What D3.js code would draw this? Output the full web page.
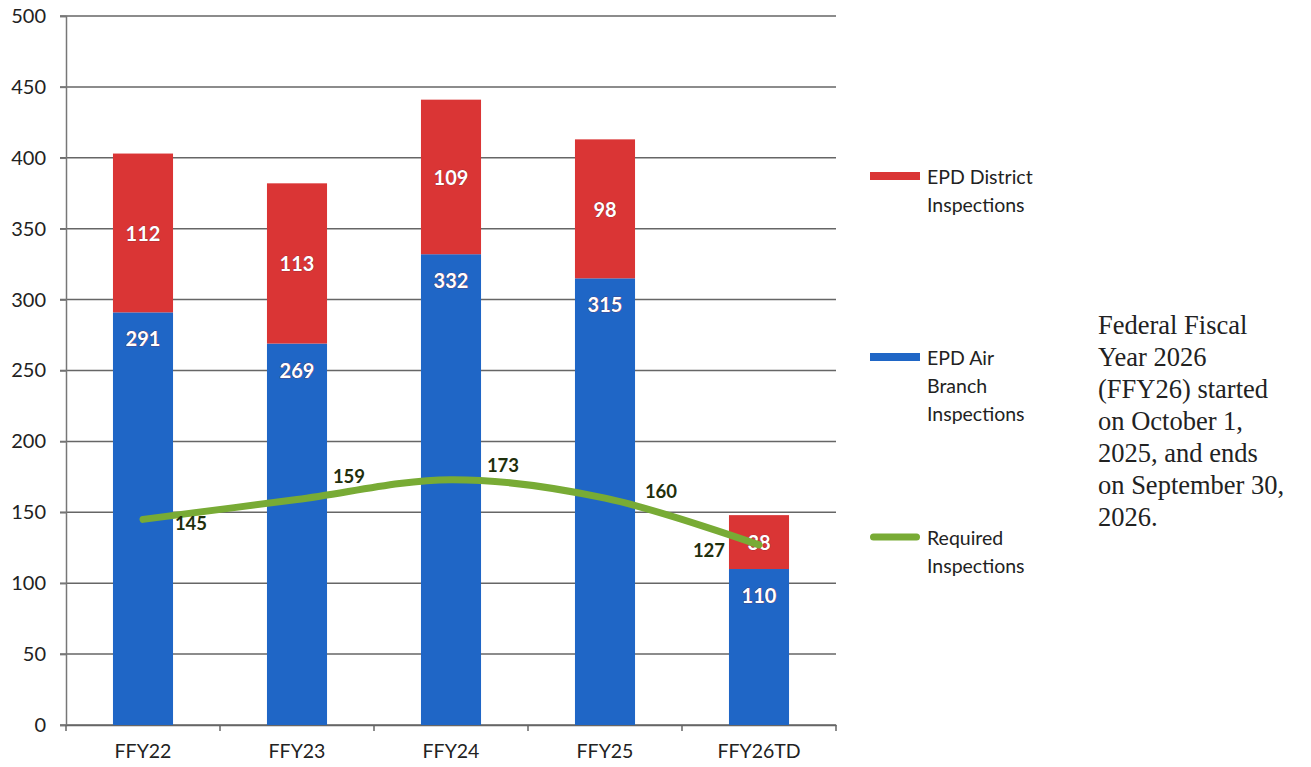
<!DOCTYPE html>
<html>
<head>
<meta charset="utf-8">
<script src="https://cdn.jsdelivr.net/npm/d3@7"></script>
<style>
	body { margin: 0; background: #fff; }
	svg text { font-family: Lato, "Open Sans", sans-serif; }
</style>
</head>
<body>
<div id="chart"></div>
<script>
// values
var years = ["FFY22", "FFY23", "FFY24", "FFY25", "FFY26TD"];
var airBranch = [291, 269, 332, 315, 110];
var district = [112, 113, 109, 98, 38];
var required = [145, 159, 173, 160, 127];
var yTicks = [0, 50, 100, 150, 200, 250, 300, 350, 400, 450, 500];
var noteLines = ["Federal Fiscal", "Year 2026", "(FFY26) started", "on October 1,", "2025, and ends", "on September 30,", "2026."];

var width = 1311, height = 767;
var blue = "#1f66c6", red = "#da3535", green = "#78ab35";

var svg = d3.select("#chart").append("svg").attr("width", width).attr("height", height);

var x = d3.scaleBand().domain(years).range([66, 836]).paddingInner(0.61).paddingOuter(0.305);
var y = d3.scaleLinear().domain([0, 500]).range([725, 16]);

// gridlines
svg.append("g").selectAll("line").data(yTicks).enter().append("line")
	.attr("x1", 60).attr("x2", 836)
	.attr("y1", function(d){ return y(d); }).attr("y2", function(d){ return y(d); })
	.attr("stroke", "#666").attr("stroke-width", 1.5);

// y axis
var yAxis = d3.axisLeft(y).tickValues(yTicks).tickSize(6).tickPadding(14);
var gy = svg.append("g").attr("transform", "translate(66,0)").call(yAxis);
gy.selectAll("path, line").attr("stroke", "#777").attr("stroke-width", 1.5);
gy.selectAll("text").attr("font-size", 20).attr("fill", "#222");

// x axis
var xAxis = d3.axisBottom(x).tickSize(0).tickPadding(19);
var gx = svg.append("g").attr("transform", "translate(0,725)").call(xAxis);
gx.select("path").attr("stroke", "#666").attr("stroke-width", 1.5);
gx.selectAll("text").attr("font-size", 19.5).attr("fill", "#222");
// category boundary ticks
var step = x.step();
svg.append("g").selectAll("line").data(d3.range(years.length + 1)).enter().append("line")
	.attr("x1", function(i){ return 66 + i * step; }).attr("x2", function(i){ return 66 + i * step; })
	.attr("y1", 725).attr("y2", 731)
	.attr("stroke", "#666").attr("stroke-width", 1.5);

// stacked bars
var rows = years.map(function(yr, i){ return { year: yr, air: airBranch[i], dist: district[i], req: required[i] }; });

svg.append("g").selectAll("rect").data(rows).enter().append("rect")
	.attr("x", function(d){ return x(d.year); })
	.attr("width", x.bandwidth())
	.attr("y", function(d){ return y(d.air); })
	.attr("height", function(d){ return y(0) - y(d.air); })
	.attr("fill", blue);

svg.append("g").selectAll("rect").data(rows).enter().append("rect")
	.attr("x", function(d){ return x(d.year); })
	.attr("width", x.bandwidth())
	.attr("y", function(d){ return y(d.air + d.dist); })
	.attr("height", function(d){ return y(d.air) - y(d.air + d.dist); })
	.attr("fill", red);

function barLabel(sel){
	sel.attr("text-anchor", "middle").attr("dominant-baseline", "central")
		.attr("font-size", 20).attr("font-weight", "bold").attr("fill", "#fff")
		.attr("stroke", "#7a2030").attr("stroke-width", 0.6).attr("paint-order", "stroke");
}

svg.append("g").selectAll("text").data(rows).enter().append("text")
	.attr("x", function(d){ return x(d.year) + x.bandwidth() / 2; })
	.attr("y", function(d){ return y(d.air) + 26; })
	.text(function(d){ return d.air; })
	.call(barLabel);

svg.append("g").selectAll("text").data(rows).enter().append("text")
	.attr("x", function(d){ return x(d.year) + x.bandwidth() / 2; })
	.attr("y", function(d){ return (y(d.air) + y(d.air + d.dist)) / 2; })
	.text(function(d){ return d.dist; })
	.call(barLabel);

// required line
var line = d3.line()
	.x(function(d){ return x(d.year) + x.bandwidth() / 2; })
	.y(function(d){ return y(d.req); })
	.curve(d3.curveCatmullRom.alpha(0.5));

svg.append("path").datum(rows)
	.attr("d", line)
	.attr("fill", "none").attr("stroke", green).attr("stroke-width", 7).attr("stroke-linecap", "round");

var reqOffsets = [[48, 4], [52, -24], [52, -15], [56, -7], [-50, 5]];
svg.append("g").selectAll("text").data(rows).enter().append("text")
	.attr("x", function(d, i){ return x(d.year) + x.bandwidth() / 2 + reqOffsets[i][0]; })
	.attr("y", function(d, i){ return y(d.req) + reqOffsets[i][1]; })
	.attr("text-anchor", "middle").attr("dominant-baseline", "central")
	.attr("font-size", 18.5).attr("font-weight", "bold").attr("fill", "#1f2f0c")
	.text(function(d){ return d.req; });

// legend
var legend = [
	{ color: red, type: "bar", lines: ["EPD District", "Inspections"], y: 176 },
	{ color: blue, type: "bar", lines: ["EPD Air", "Branch", "Inspections"], y: 357 },
	{ color: green, type: "line", lines: ["Required", "Inspections"], y: 537 }
];
var lg = svg.append("g").selectAll("g").data(legend).enter().append("g")
	.attr("transform", function(d){ return "translate(870," + d.y + ")"; });
lg.append("rect")
	.attr("x", 0).attr("y", function(d){ return d.type == "bar" ? -4 : -3.5; })
	.attr("width", 50).attr("height", function(d){ return d.type == "bar" ? 8 : 7; })
	.attr("rx", function(d){ return d.type == "bar" ? 0 : 3.5; })
	.attr("fill", function(d){ return d.color; });
lg.each(function(d){
	var g = d3.select(this);
	d.lines.forEach(function(t, i){
		g.append("text").attr("x", 57).attr("y", i * 28)
			.attr("dominant-baseline", "central")
			.attr("font-size", 19.5).attr("fill", "#222").text(t);
	});
});

// note at the right
svg.append("g").selectAll("text").data(noteLines).enter().append("text")
	.attr("x", 1098).attr("y", function(d, i){ return 325 + i * 32; })
	.attr("dominant-baseline", "central")
	.style("font-family", "'Liberation Serif', 'Times New Roman', serif")
	.attr("font-size", 26.5).attr("fill", "#222")
	.text(function(d){ return d; });
</script>
</body>
</html>
